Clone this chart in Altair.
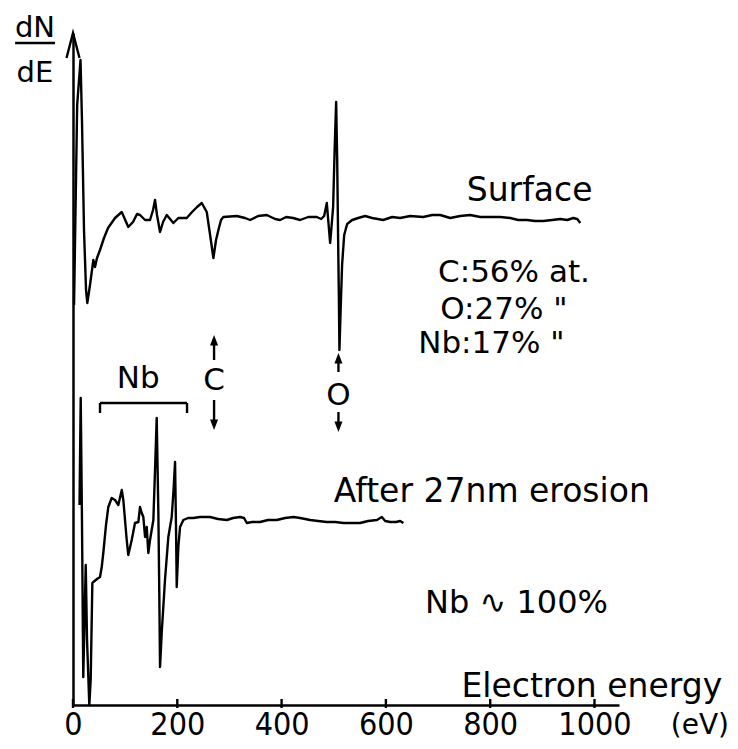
import altair as alt
import pandas as pd

# ---- Surface spectrum: electron energy (eV) vs dN/dE (arbitrary units) ----
surface_E = [2.0, 8.0, 14.4, 17.2, 21.1, 25.0, 27.4, 32.6, 39.0, 42.2, 46.0, 51.8, 59.4, 67.2,
             80.6, 93.5, 106.0, 115.1, 122.8, 128.5, 138.2, 147.7, 153.5, 157.3, 161.1, 166.9,
             172.7, 179.8, 192.5, 202.0, 218.1, 228.3, 237.9, 246.9, 256.5, 262.9, 269.2, 274.3,
             278.8, 283.9, 288.3, 314.0, 329.9, 339.6, 354.9, 371.6, 387.5, 397.1, 408.7, 422.1,
             435.5, 450.9, 467.5, 475.8, 481.6, 486.7, 490.2, 493.1, 496.0, 498.8, 501.7, 504.6,
             506.6, 508.4, 509.9, 510.9, 513.2, 516.0, 520.0, 525.7, 535.3, 546.9, 560.2, 573.6,
             594.8, 612.0, 627.3, 646.6, 671.5, 688.8, 704.1, 723.3, 742.4, 761.7, 780.8, 800.0,
             819.2, 838.4, 853.7, 870.4, 886.3, 901.8, 919.0, 934.3, 947.8, 959.3, 966.9, 972.7]
surface_y = [400, 600, 645, 585, 475, 415, 402, 420, 445, 438, 447, 455, 467, 477,
             487, 493, 478, 483, 491, 490, 485, 485, 495, 505, 490, 473,
             483, 490, 482, 487, 487, 493, 498, 502, 493, 470, 447, 465,
             475, 485, 488, 489, 487, 485, 489, 490, 486, 485, 488, 487,
             485, 488, 488, 486, 489, 502, 480, 462, 480, 498, 555, 603,
             545, 465, 405, 355, 395, 440, 470, 481, 485, 487, 489, 487,
             485, 488, 487, 489, 488, 490, 490, 487, 489, 490, 488, 488,
             488, 487, 485, 485, 484, 484, 485, 486, 485, 487, 486, 482]

# ---- Spectrum after 27 nm erosion ----
eroded_E = [12.5, 14.8, 17.2, 19.7, 22.1, 24.4, 26.9, 31.3, 33.9, 35.9, 37.1, 39.0, 46.0,
            51.8, 55.1, 58.1, 63.3, 67.7, 74.2, 80.6, 86.9, 93.5, 96.5, 103.0, 106.0, 112.6,
            118.9, 125.3, 128.5, 131.8, 134.9, 138.2, 141.4, 144.4, 147.7, 154.1, 157.3, 160.5,
            163.7, 165.4, 166.9, 170.1, 176.4, 182.8, 189.3, 192.8, 195.7, 197.6, 198.9, 202.0,
            205.3, 211.6, 220.7, 230.8, 243.6, 262.9, 278.2, 294.9, 307.0, 320.4, 328.0, 333.3,
            343.4, 358.7, 374.1, 390.8, 406.8, 422.7, 435.5, 454.7, 470.0, 486.7, 502.6, 518.6,
            535.3, 550.6, 566.0, 582.7, 592.3, 598.6, 608.2, 619.7, 627.3, 633.7]
eroded_y = [200, 307, 185, 28, 85, 140, 65, 0, 25, 85, 122, 123, 126,
            128, 138, 152, 180, 198, 207, 205, 200, 215, 205, 165, 150, 165,
            182, 183, 198, 192, 188, 168, 178, 152, 165, 185, 235, 287,
            192, 115, 38, 72, 125, 168, 188, 215, 243, 175, 118, 158,
            178, 185, 187, 187, 188, 188, 186, 185, 187, 188, 187, 182,
            183, 183, 185, 185, 187, 188, 187, 185, 184, 183, 183, 182,
            182, 182, 184, 185, 188, 184, 183, 183, 184, 182]

x_ticks = [0, 200, 400, 600, 800, 1000]

# ---- annotations ----
left_texts = ["Surface", "C:56% at.", "O:27%  \"", "Nb:17%  \"", "After 27nm erosion", "Nb \u223f 100%"]
left_E = [755, 700, 704, 662, 500, 675]
left_y = [504, 423, 386, 352, 203, 92]
left_size = [33, 31, 31, 31, 33, 32]

right_texts = ["Electron energy", "(eV)"]
right_E = [1245, 1258]
right_y = [8, -29]
right_size = [33, 28]

center_texts = ["dN", "dE", "Nb", "C", "O"]
center_E = [-73, -73, 125, 270.5, 509]
center_y = [668, 623, 317, 315, 300]
center_size = [29, 29, 31, 31, 31]

X_MAX, Y_MAX = 1047, 672
W, H = 546, 672
FONT = "DejaVu Sans"
TICK_FONT = "Liberation Sans Narrow, DejaVu Sans Condensed, DejaVu Sans"

rows = []
for name, xs_, ys_ in [("Surface", surface_E, surface_y), ("After 27 nm erosion", eroded_E, eroded_y)]:
    for i, (e, v) in enumerate(zip(xs_, ys_)):
        rows.append({"series": name, "i": i, "E": e, "y": v})
spectra = pd.DataFrame(rows)

xs = alt.Scale(domain=[0, X_MAX], nice=False, zero=False)
ys = alt.Scale(domain=[0, Y_MAX], nice=False, zero=False)

lines = alt.Chart(spectra).mark_line(color="black", strokeWidth=2.4, strokeJoin="round").encode(
    x=alt.X("E:Q", scale=xs, axis=alt.Axis(values=x_ticks, format="d", ticks=False, grid=False, title=None,
                                          domainColor="black", domainWidth=2.5, labelFontSize=32,
                                          labelFont=TICK_FONT, labelColor="black",
                                          labelBaseline="alphabetic", labelPadding=29,
                                          labelFlush=False, labelOverlap=False)),
    y=alt.Y("y:Q", scale=ys, axis=alt.Axis(labels=False, ticks=False, grid=False, title=None,
                                          domainColor="black", domainWidth=2.5)),
    detail="series:N",
    order="i:Q",
)

# segments: axis ticks, Nb bracket, C and O marker shafts, fraction bar
seg = []
for t in x_ticks:
    seg.append({"x": t, "x2": t, "y": -3, "y2": 6})
seg += [
    {"x": 51.8, "x2": 218.7, "y": 302, "y2": 302},
    {"x": 51.8, "x2": 51.8, "y": 302, "y2": 292},
    {"x": 218.7, "x2": 218.7, "y": 302, "y2": 292},
    {"x": 270.5, "x2": 270.5, "y": 345, "y2": 362},
    {"x": 270.5, "x2": 270.5, "y": 305, "y2": 283},
    {"x": 509, "x2": 509, "y": 333, "y2": 345},
    {"x": 509, "x2": 509, "y": 293, "y2": 281},
    {"x": -111, "x2": -34.5, "y": 662, "y2": 662},
]
segs = alt.Chart(pd.DataFrame(seg)).mark_rule(color="black", strokeWidth=2.4).encode(
    x=alt.X("x:Q", scale=xs), x2="x2:Q", y=alt.Y("y:Q", scale=ys), y2="y2:Q")

UP = "M0,0L0.38,1L-0.38,1Z"
DOWN = "M0,0L0.38,-1L-0.38,-1Z"
heads = pd.DataFrame({"x": [270.5, 270.5, 509, 509], "y": [370, 275, 352, 273],
                      "shape": [UP, DOWN, UP, DOWN]})
arrowheads = alt.Chart(heads).mark_point(filled=True, color="black", size=450, opacity=1).encode(
    x=alt.X("x:Q", scale=xs), y=alt.Y("y:Q", scale=ys), shape=alt.Shape("shape:N", scale=None))

axis_tip = alt.Chart(pd.DataFrame({"x": [0], "y": [Y_MAX]})).mark_point(
    shape="M-0.26,1L0,0L0.26,1", filled=False, stroke="black", strokeWidth=2.4, size=2500, opacity=1
).encode(x=alt.X("x:Q", scale=xs), y=alt.Y("y:Q", scale=ys))


def text_layer(texts, ex, ey, sizes, align):
    df = pd.DataFrame({"t": texts, "x": ex, "y": ey, "s": sizes})
    return alt.Chart(df).mark_text(align=align, baseline="alphabetic", font=FONT, color="black").encode(
        x=alt.X("x:Q", scale=xs), y=alt.Y("y:Q", scale=ys), text="t:N",
        size=alt.Size("s:Q", scale=None))


chart = alt.layer(
    lines, segs, arrowheads, axis_tip,
    text_layer(left_texts, left_E, left_y, left_size, "left"),
    text_layer(right_texts, right_E, right_y, right_size, "right"),
    text_layer(center_texts, center_E, center_y, center_size, "center"),
).properties(
    width=W, height=H,
    autosize=alt.AutoSizeParams(type="none"),
    padding={"left": 65, "top": 25, "right": 111, "bottom": 36},
    background="white",
).configure_view(stroke=None)

chart.save("out.html", embed_options={"renderer": "svg", "actions": False})
